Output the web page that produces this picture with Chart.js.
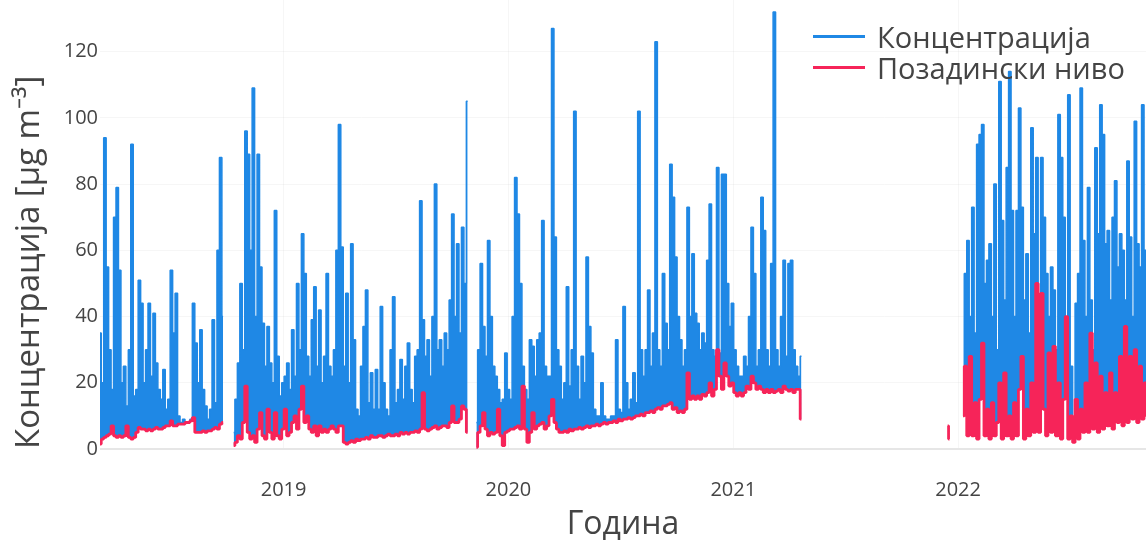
<!DOCTYPE html>
<html>
<head>
<meta charset="utf-8">
<script src="https://cdn.jsdelivr.net/npm/chart.js@4.4.1/dist/chart.umd.min.js"></script>
<style>
  body { margin: 0; background: #fff; }
  #wrap { position: relative; width: 1146px; height: 544px; }
  #legend { position: absolute; left: 813px; top: 21px; font-family: "Open Sans", sans-serif; }
  .item { display: flex; align-items: center; height: 31px; }
  .swatch { width: 52px; height: 3px; margin-right: 12px; }
  .label { font-size: 29px; color: #444; line-height: 31px; white-space: nowrap; }
</style>
</head>
<body>
<div id="wrap">
  <canvas id="myChart" width="1146" height="544"></canvas>
  <div id="legend"></div>
</div>
<script>
// each run of readings, sampled every 4 days from its start date
const segmentStarts = ["2018-03-09", "2018-10-12", "2019-11-10", "2022-01-09"];
const stepDays = 4;

const conc1 = [35, 20, 94, 55, 30, 18, 70, 79, 54, 20, 25, 13, 30, 92, 16, 18, 51, 44, 20, 30,
  44, 22, 41, 26, 18, 15, 24, 12, 15, 54, 35, 47, 10, 8, 9, 8, 8, 9, 44, 32,
  20, 36, 18, 13, 9, 12, 39, 14, 60, 88, 40];
const conc2 = [5, 15, 26, 50, 30, 96, 89, 60, 109, 40, 89, 55, 38, 25, 37, 26, 20, 72, 28, 16,
  20, 22, 26, 18, 36, 22, 50, 30, 65, 53, 28, 22, 39, 49, 25, 42, 20, 28, 53, 25,
  22, 30, 60, 98, 61, 25, 47, 20, 62, 33, 12, 10, 25, 37, 48, 14, 23, 12, 24, 12,
  43, 20, 12, 10, 30, 46, 14, 18, 27, 15, 25, 32, 18, 14, 28, 30, 75, 39, 28, 33,
  22, 40, 80, 30, 33, 25, 35, 30, 45, 71, 40, 62, 35, 67, 50, 105];
const conc3 = [8, 30, 56, 37, 28, 63, 40, 25, 22, 18, 14, 15, 29, 18, 15, 40, 82, 71, 50, 25,
  18, 15, 33, 31, 22, 33, 35, 69, 25, 22, 22, 127, 64, 30, 25, 15, 20, 49, 19, 30,
  102, 25, 15, 28, 20, 58, 37, 29, 12, 10, 10, 20, 10, 9, 9, 10, 10, 33, 12, 11,
  43, 20, 12, 15, 23, 14, 102, 30, 22, 30, 48, 25, 35, 123, 30, 25, 53, 38, 30, 86,
  76, 58, 40, 33, 25, 30, 73, 40, 59, 41, 38, 30, 35, 32, 57, 74, 30, 28, 85, 29,
  83, 83, 50, 37, 44, 30, 25, 22, 22, 28, 25, 40, 67, 53, 25, 30, 76, 66, 30, 25,
  56, 132, 30, 25, 40, 57, 28, 56, 57, 30, 25, 22, 28];
const conc4 = [20, 53, 63, 40, 73, 35, 92, 95, 98, 50, 57, 62, 40, 80, 30, 111, 69, 45, 85, 114,
  72, 40, 72, 103, 73, 45, 59, 35, 97, 65, 88, 45, 88, 70, 53, 40, 55, 48, 30, 101,
  88, 70, 35, 107, 25, 3, 44, 53, 109, 63, 40, 79, 45, 30, 91, 65, 104, 95, 62, 66,
  45, 70, 81, 55, 65, 60, 45, 87, 64, 40, 99, 62, 55, 104, 60, 45, 70];

const bg1 = [1.5, 3, 3.5, 4, 4.5, 7, 4, 3.5, 4, 3.5, 4, 7, 3.5, 3, 3.5, 5, 6.5, 6, 6, 5.5,
  6, 5.5, 6, 6.5, 6, 6, 6.5, 7, 7, 8.5, 7, 7, 7.5, 7.5, 7.5, 8, 8, 8.5, 9.5, 5,
  5, 5, 5.5, 5, 5.5, 5.5, 6, 6.5, 6, 7.5, 8];
const bg2 = [1, 2, 4, 3, 8, 19, 5, 3, 4, 2, 6, 11, 4, 3, 12, 5, 3, 11, 4, 3,
  6, 12, 4, 5, 8, 10, 6, 12, 19, 8, 10, 6, 5, 7, 4, 7, 5, 6, 5, 6,
  7, 6, 5, 7, 7, 2, 1.5, 2, 2.5, 2, 3, 2.5, 3, 3, 3.5, 3, 4, 3.5, 3.5, 4,
  4, 3.5, 4, 4.5, 4, 4, 4.5, 4, 5, 4.5, 5, 4.5, 5, 5, 5.5, 5, 6, 17, 6, 5.5,
  6, 6.5, 7, 6, 6.5, 7, 7, 6.5, 8, 13, 8, 8, 9, 13, 12, 5];
const bg3 = [0.5, 5, 7, 11, 6, 4, 5, 4.5, 5, 12, 4, 1, 5, 5.5, 6, 6, 6.5, 7, 6, 19,
  6, 2, 5, 11, 6, 7, 7.5, 8, 6, 7, 10, 15, 8, 6, 5, 5, 5.5, 5, 6, 5.5,
  6, 6, 6.5, 6, 6.5, 7, 6.5, 7, 7, 7.5, 7, 7.5, 8, 7.5, 8, 8, 8.5, 8, 9, 8.5,
  9, 9, 9.5, 9, 9.5, 10, 10, 10.5, 10, 11, 11, 11.5, 11, 12, 12.5, 12, 13, 13, 13.5, 14,
  12, 12.5, 11, 11.5, 11, 12, 23, 15, 16, 15, 16, 15, 16.5, 16, 17, 20, 16, 18, 30, 22,
  18, 26, 22, 19, 20, 17, 16, 17, 16, 17, 19, 18, 22, 20, 18, 19, 18, 17, 18, 17,
  18, 17, 17.5, 18, 17, 19, 18, 17.5, 18, 17, 18, 18, 9];
const bg4 = [10, 25, 4, 28, 4, 14, 3, 15, 32, 4, 12, 3, 14, 4, 8, 20, 3, 23, 4, 10,
  3, 14, 4, 18, 28, 3, 12, 4, 20, 5, 50, 5, 47, 12, 4, 29, 5, 31, 4, 20,
  3, 15, 40, 3, 10, 2, 15, 3, 12, 5, 20, 5, 35, 6, 26, 5, 22, 6, 17, 7,
  23, 6, 17, 8, 28, 7, 37, 8, 28, 9, 30, 8, 25, 9, 20, 10, 15];
const bgDec2021Dates = ["2021-12-15", "2021-12-18"];
const bgDec2021 = [7, 3];

const yearTicks = [2019, 2020, 2021, 2022];

function toYear(s) {
  const d = new Date(s + "T00:00:00Z");
  const y = d.getUTCFullYear();
  const start = Date.UTC(y, 0, 1);
  const len = Date.UTC(y + 1, 0, 1) - start;
  return y + (d.getTime() - start) / len;
}

function buildSeries(segments, extra) {
  const pts = [];
  segments.forEach((vals, s) => {
    const x0 = toYear(segmentStarts[s]);
    vals.forEach((v, i) => pts.push({ x: x0 + (i * stepDays) / 365.25, y: v }));
    pts.push({ x: x0 + (vals.length * stepDays) / 365.25, y: null });
    if (extra && s === 2) {
      extra.dates.forEach((d, i) => pts.push({ x: toYear(d), y: extra.vals[i] }));
      pts.push({ x: toYear(extra.dates[extra.dates.length - 1]) + 0.01, y: null });
    }
  });
  return pts;
}

const blue = "rgb(31,136,229)";
const pink = "rgb(246,36,89)";
const textColor = "#444";

const ctx = document.getElementById("myChart").getContext("2d");

const config = {
  type: "line",
  data: {
    datasets: [
      {
        label: "Концентрација",
        data: buildSeries([conc1, conc2, conc3, conc4]),
        borderColor: blue,
        backgroundColor: blue,
        borderWidth: 1.5,
        stepped: "middle",
        fill: "+1",
        order: 1,
      },
      {
        label: "Позадински ниво",
        data: buildSeries([bg1, bg2, bg3, bg4], { dates: bgDec2021Dates, vals: bgDec2021 }),
        borderColor: pink,
        backgroundColor: pink,
        borderWidth: 2.8,
        stepped: "middle",
        order: 0,
      },
    ],
  },
  options: {
    responsive: false,
    animation: false,
    spanGaps: false,
    layout: { padding: 0 },
    elements: {
      point: { radius: 0 },
      line: { tension: 0, borderJoinStyle: "bevel" },
    },
    plugins: {
      legend: { display: false },
      tooltip: { enabled: false },
      filler: { propagate: false },
    },
    scales: {
      x: {
        type: "linear",
        min: toYear("2018-03-09"),
        max: toYear("2022-11-02"),
        afterBuildTicks: (scale) => {
          scale.ticks = yearTicks.map((v) => ({ value: v }));
        },
        afterFit: (scale) => {
          scale.height = 95;
          scale.paddingLeft = 0;
          scale.paddingRight = 0;
        },
        border: { display: false },
        grid: { color: "rgba(0,0,0,0.035)", drawTicks: false },
        ticks: {
          padding: 29,
          color: textColor,
          font: { family: "Open Sans", size: 20 },
          callback: (v) => String(v),
        },
        title: {
          display: true,
          text: "Година",
          color: textColor,
          font: { family: "Open Sans", size: 32 },
          padding: { top: 0, bottom: 0 },
        },
      },
      y: {
        min: 0,
        max: 135.6,
        afterFit: (scale) => {
          scale.width = 100;
          scale.paddingTop = 0;
          scale.paddingBottom = 0;
        },
        border: { display: false },
        grid: {
          drawTicks: false,
          color: (c) => (c.tick && c.tick.value === 0 ? "#e6e6e6" : "rgba(0,0,0,0.035)"),
          lineWidth: (c) => (c.tick && c.tick.value === 0 ? 2 : 1),
        },
        ticks: {
          stepSize: 20,
          includeBounds: false,
          padding: 2,
          color: textColor,
          font: { family: "Open Sans", size: 20 },
        },
        title: {
          display: true,
          text: "Концентрација [μg m⁻³]",
          align: "start",
          color: textColor,
          font: { family: "Open Sans", size: 33 },
          padding: { top: 10, bottom: 0 },
        },
      },
    },
  },
};

const myChart = new Chart(ctx, config);

// legend built from the datasets, stacked in the top-right corner
const legendEl = document.getElementById("legend");
myChart.data.datasets.forEach((ds) => {
  const row = document.createElement("div");
  row.className = "item";
  const sw = document.createElement("span");
  sw.className = "swatch";
  sw.style.background = ds.borderColor;
  const lab = document.createElement("span");
  lab.className = "label";
  lab.textContent = ds.label;
  row.appendChild(sw);
  row.appendChild(lab);
  legendEl.appendChild(row);
});
</script>
</body>
</html>
